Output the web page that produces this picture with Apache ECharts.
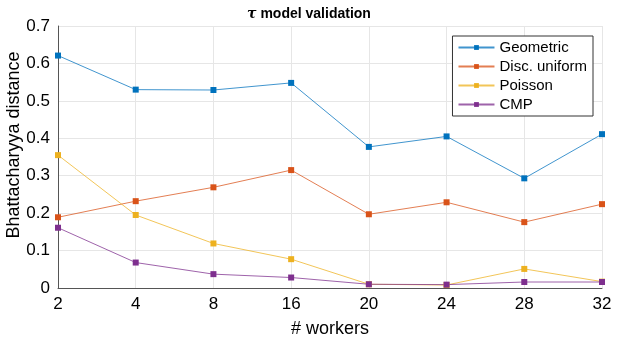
<!DOCTYPE html>
<html><head><meta charset="utf-8">
<script src="https://cdn.jsdelivr.net/npm/echarts@6/dist/echarts.min.js"></script>
<style>html,body{margin:0;padding:0;background:#fff}#c{width:618px;height:338px}</style>
</head><body><div id="c"></div>
<script>
var workers = ['2','4','8','16','20','24','28','32'];
var geometric = [0.621, 0.530, 0.529, 0.548, 0.377, 0.405, 0.293, 0.411];
var discUniform = [0.189, 0.232, 0.269, 0.315, 0.197, 0.229, 0.176, 0.224];
var poisson = [0.355, 0.195, 0.119, 0.077, 0.010, 0.008, 0.051, 0.017];
var cmp = [0.161, 0.068, 0.037, 0.028, 0.010, 0.009, 0.016, 0.016];
var seriesNames = ['Geometric', 'Disc. uniform', 'Poisson', 'CMP'];
var colors = ['#0072BD', '#D95319', '#EDB120', '#7E2F8E'];
var yTicks = [0, 0.1, 0.2, 0.3, 0.4, 0.5, 0.6, 0.7];

var font = 'Liberation Sans, Arial, Helvetica, sans-serif';
var chart = echarts.init(document.getElementById('c'), null, {renderer: 'canvas'});
function mk(name, data, color) {
  return {
    name: name, type: 'line', data: data,
    symbol: 'rect', symbolSize: 6,
    lineStyle: {color: color, width: 1, opacity: 0.75},
    itemStyle: {color: color},
    emphasis: {disabled: true}
  };
}
chart.setOption({
  animation: false,
  color: colors,
  title: {
    text: '{t|τ} model validation', left: 'center', top: 2,
    textStyle: {fontFamily: font, fontSize: 14, fontWeight: 'bold', color: '#000',
      rich: {t: {fontFamily: 'DejaVu Serif, serif', fontStyle: 'italic', fontSize: 14, fontWeight: 'bold', color: '#000'}}}
  },
  legend: {
    data: seriesNames, orient: 'vertical', right: 25, top: 36,
    itemWidth: 36, itemHeight: 6, itemGap: 4,
    borderColor: '#333', borderWidth: 1, padding: [4, 6, 4, 5],
    backgroundColor: '#fff',
    textStyle: {fontFamily: font, fontSize: 15, color: '#000', padding: [0, 0, 0, 0]}
  },
  grid: {left: 58, right: 16, top: 26, bottom: 50, containLabel: false, outerBoundsMode: 'none'},
  graphic: [{
    type: 'text', x: 14, y: 145, rotation: Math.PI / 2,
    style: {text: 'Bhattacharyya distance', fontFamily: font, fontSize: 18, fill: '#000',
      align: 'center', verticalAlign: 'middle'}
  }],
  xAxis: {
    type: 'category', data: workers, boundaryGap: false,
    name: '# workers', nameLocation: 'middle', nameGap: 32,
    nameTextStyle: {fontFamily: font, fontSize: 18, color: '#000'},
    axisLine: {lineStyle: {color: '#555', width: 1}},
    axisTick: {show: false},
    axisLabel: {fontFamily: font, fontSize: 17, color: '#000', margin: 8},
    splitLine: {show: true, lineStyle: {color: '#e6e6e6', width: 1}}
  },
  yAxis: {
    type: 'value', min: 0, max: 0.7, interval: 0.1,
    axisLine: {show: true, lineStyle: {color: '#555', width: 1}},
    axisTick: {show: false},
    axisLabel: {fontFamily: font, fontSize: 17, color: '#000', margin: 8,
      formatter: function (v) { return String(parseFloat(v.toFixed(1))); }},
    splitLine: {show: true, lineStyle: {color: '#e6e6e6', width: 1}}
  },
  series: [
    mk(seriesNames[0], geometric, colors[0]),
    mk(seriesNames[1], discUniform, colors[1]),
    mk(seriesNames[2], poisson, colors[2]),
    mk(seriesNames[3], cmp, colors[3])
  ]
});
</script></body></html>
